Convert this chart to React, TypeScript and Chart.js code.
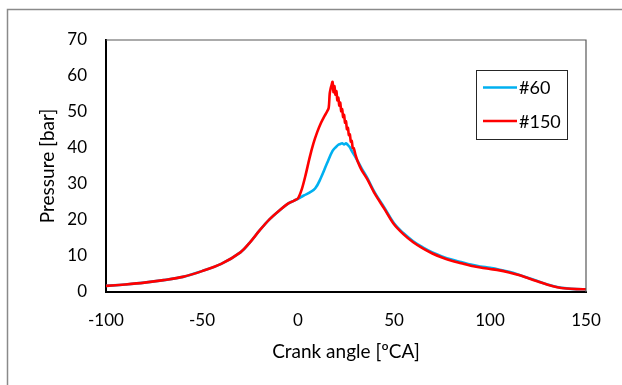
import React, { useEffect, useRef } from "react";
import { Chart, registerables } from "chart.js";

Chart.register(...registerables);

const xTicks = [-100, -50, 0, 50, 100, 150];
const yTicks = [0, 10, 20, 30, 40, 50, 60, 70];

const angles60 = [-100, -90, -80, -70, -60, -50, -40, -30, -25, -20, -15, -10, -5, -2, 0, 3, 6, 9, 12, 15, 18, 20, 21, 22, 23, 24, 25, 26, 27, 28, 30, 33, 36, 40, 45, 50, 55, 60, 65, 70, 75, 80, 85, 90, 95, 100, 105, 110, 115, 120, 125, 130, 135, 140, 145, 150];
const p60 = [1.7, 2.1, 2.6, 3.3, 4.2, 5.8, 7.8, 11.0, 13.8, 17.1, 20.1, 22.5, 24.6, 25.4, 25.9, 26.8, 27.6, 28.8, 31.8, 35.6, 39.2, 40.4, 40.9, 41.1, 41.3, 41.0, 41.3, 40.8, 40.2, 39.2, 37.4, 34.5, 31.8, 27.6, 23.4, 19.1, 16.3, 14.1, 12.4, 11.0, 9.9, 9.0, 8.3, 7.6, 7.1, 6.7, 6.2, 5.6, 4.8, 3.9, 3.0, 2.1, 1.4, 1.0, 0.8, 0.75];

const angles150 = [-100, -90, -80, -70, -60, -50, -40, -30, -25, -20, -15, -10, -5, -2, 0, 2, 4, 6, 8, 10, 12, 13.5, 15, 16, 16.5, 17, 17.5, 18, 18.5, 19, 19.5, 20, 20.5, 21, 21.5, 22, 22.5, 23, 23.5, 24, 24.5, 25, 25.5, 26, 26.5, 27, 27.5, 28, 28.5, 29, 30, 31, 33, 36, 40, 45, 50, 55, 60, 65, 70, 75, 80, 85, 90, 95, 100, 105, 110, 115, 120, 125, 130, 135, 140, 145, 150];
const p150 = [1.7, 2.1, 2.6, 3.3, 4.2, 5.8, 7.8, 11.0, 13.8, 17.1, 20.1, 22.5, 24.6, 25.4, 26.0, 28.6, 32.6, 37.2, 41.2, 44.4, 47.0, 48.6, 50.0, 51.2, 55.0, 56.5, 57.5, 58.4, 55.5, 57.2, 54.8, 55.8, 53.2, 54.0, 51.8, 52.6, 50.2, 50.8, 48.6, 49.2, 47.0, 47.4, 45.2, 45.6, 43.6, 43.8, 41.8, 42.0, 40.0, 40.0, 38.0, 36.4, 34.0, 31.4, 27.3, 23.1, 18.8, 16.0, 13.8, 12.1, 10.7, 9.6, 8.7, 8.0, 7.3, 6.8, 6.4, 6.0, 5.4, 4.7, 3.8, 2.9, 2.0, 1.3, 0.95, 0.8, 0.75];

const seriesLabels = ["#60", "#150"];
const seriesColors = ["#00B0F0", "#FF0000"];

const FONT = "Lato, 'Open Sans', sans-serif";

const framePlugin = {
  id: "frame",
  afterDraw(chart: any) {
    const { ctx, chartArea } = chart;
    ctx.save();
    ctx.strokeStyle = "#8a8a8a";
    ctx.lineWidth = 1.5;
    ctx.beginPath();
    ctx.moveTo(7.5, 385);
    ctx.lineTo(7.5, 9.5);
    ctx.lineTo(622, 9.5);
    ctx.stroke();
    ctx.strokeStyle = "#595959";
    ctx.lineWidth = 1.2;
    ctx.beginPath();
    ctx.moveTo(chartArea.left, chartArea.top);
    ctx.lineTo(chartArea.right, chartArea.top);
    ctx.lineTo(chartArea.right, chartArea.bottom);
    ctx.stroke();
    const lx = 476.5, ly = 70.5, lw = 91, lh = 69;
    ctx.fillStyle = "#fff";
    ctx.fillRect(lx, ly, lw, lh);
    ctx.strokeStyle = "#262626";
    ctx.lineWidth = 1;
    ctx.strokeRect(lx, ly, lw, lh);
    const rows = [87.5, 121];
    ctx.font = `18px ${FONT}`;
    ctx.textBaseline = "middle";
    ctx.textAlign = "left";
    chart.data.datasets.forEach((ds: any, i: number) => {
      const y = rows[i];
      ctx.strokeStyle = ds.borderColor;
      ctx.lineWidth = 2.5;
      ctx.beginPath();
      ctx.moveTo(483, y);
      ctx.lineTo(517, y);
      ctx.stroke();
      ctx.fillStyle = "#000";
      ctx.fillText(ds.label, 519, y + 1);
    });
    ctx.restore();
  },
};

export default function App() {
  const ref = useRef<HTMLCanvasElement | null>(null);
  useEffect(() => {
    if (!ref.current) return;
    const chart = new Chart(ref.current, {
      type: "line",
      data: {
        datasets: [
          {
            label: seriesLabels[0],
            data: angles60.map((a, i) => ({ x: a, y: p60[i] })),
            borderColor: seriesColors[0],
            backgroundColor: seriesColors[0],
            borderWidth: 2.6,
            pointRadius: 0,
            tension: 0.4,
            order: 2,
          },
          {
            label: seriesLabels[1],
            data: angles150.map((a, i) => ({ x: a, y: p150[i] })),
            borderColor: seriesColors[1],
            backgroundColor: seriesColors[1],
            borderWidth: 2.6,
            pointRadius: 0,
            tension: 0.3,
            order: 1,
          },
        ],
      },
      options: {
        responsive: false,
        animation: false,
        devicePixelRatio: 1,
        layout: { padding: { left: 0, right: 36, top: 40, bottom: 0 } },
        plugins: { legend: { display: false }, tooltip: { enabled: false } },
        scales: {
          x: {
            type: "linear",
            min: -100,
            max: 150,
            afterBuildTicks: (s: any) => {
              s.ticks = xTicks.map((v) => ({ value: v }));
            },
            afterFit: (s: any) => {
              s.height = 93;
            },
            grid: { display: false, drawTicks: false },
            border: { display: true, color: "#000", width: 2 },
            ticks: { padding: 18, color: "#000", font: { family: FONT, size: 17 } },
            title: {
              display: true,
              text: "Crank angle [ºCA]",
              color: "#000",
              font: { family: FONT, size: 19 },
              padding: { top: 0, bottom: 22 },
            },
          },
          y: {
            type: "linear",
            min: 0,
            max: 70,
            afterBuildTicks: (s: any) => {
              s.ticks = yTicks.map((v) => ({ value: v }));
            },
            afterFit: (s: any) => {
              s.width = 106;
            },
            grid: { display: false, drawTicks: false },
            border: { display: true, color: "#000", width: 2 },
            ticks: { padding: 19, color: "#000", font: { family: FONT, size: 17 } },
            title: {
              display: true,
              text: "Pressure [bar]",
              color: "#000",
              font: { family: FONT, size: 19 },
              padding: { top: 36, bottom: 0 },
            },
          },
        },
      },
      plugins: [framePlugin],
    } as any);
    return () => chart.destroy();
  }, []);
  return (
    <div style={{ position: "fixed", left: 0, top: 0, width: 622, height: 385, background: "#fff" }}>
      <canvas ref={ref} width={622} height={385} style={{ display: "block" }} />
    </div>
  );
}
